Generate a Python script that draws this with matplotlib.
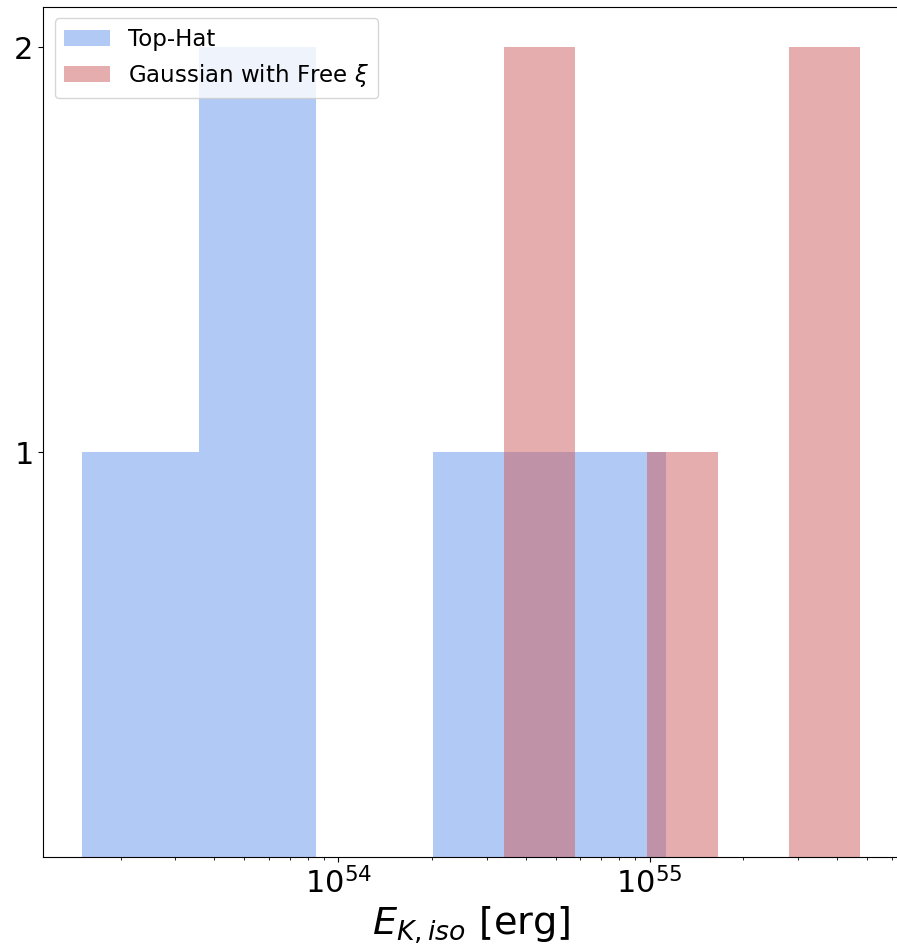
import numpy as np
import matplotlib
matplotlib.use("Agg")
import matplotlib.pyplot as plt

# log10 of E_K,iso [erg] for each burst
log_e_tophat = [53.178, 53.70, 53.85, 54.45, 55.054]
log_e_gauss = [54.533, 54.65, 55.10, 55.55, 55.677]

labels = ["Top-Hat", r"Gaussian with Free $\xi$"]
colors = ["cornflowerblue", "indianred"]
n_bins = 5

fig = plt.figure(figsize=(8.97, 9.47), dpi=100)
ax = fig.add_axes([0.0483, 0.0950, 0.9542, 0.8976])

for vals, lab, col in zip([log_e_tophat, log_e_gauss], labels, colors):
    e = 10 ** np.array(vals)
    bins = np.logspace(np.log10(e.min()), np.log10(e.max()), n_bins + 1)
    ax.hist(e, bins=bins, color=col, alpha=0.5, label=lab)

ax.set_xscale("log")
ax.set_yticks([1, 2])
ax.tick_params(axis="both", which="major", labelsize=22)
ax.set_xlabel(r"$E_{K,iso}$ [erg]", fontsize=27.5)
ax.legend(loc="upper left", fontsize=16.5)

fig.savefig("out.png", dpi=100)
